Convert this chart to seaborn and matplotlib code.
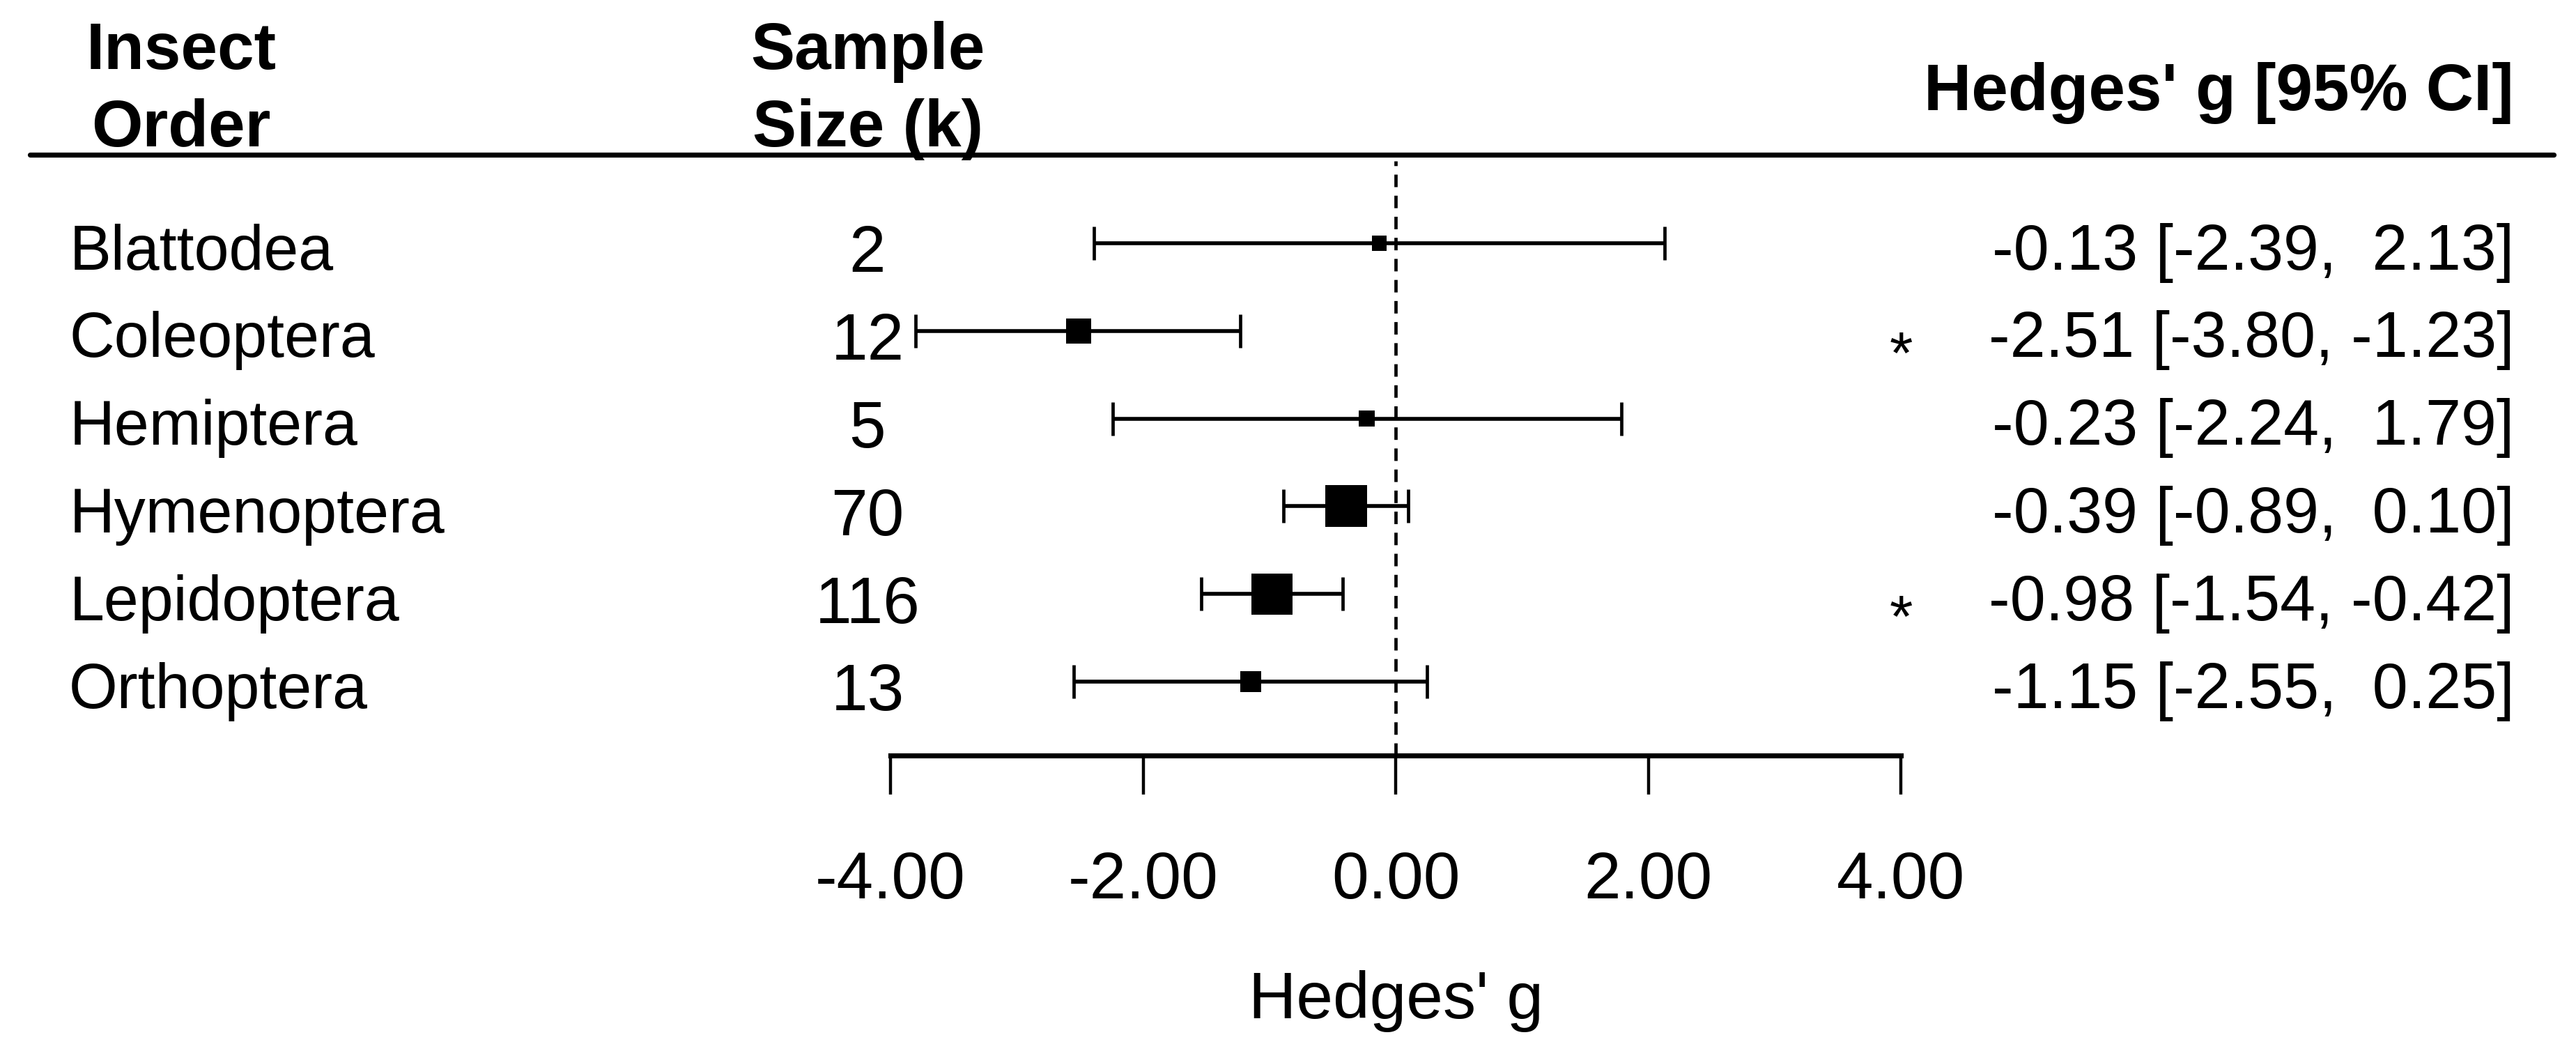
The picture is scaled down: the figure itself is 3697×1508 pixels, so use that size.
import numpy as np
import pandas as pd
import seaborn as sns
import matplotlib.pyplot as plt
from matplotlib.lines import Line2D
from matplotlib.ticker import FormatStrFormatter

sns.set_theme(style="white")
plt.rcParams['font.family'] = ['Liberation Sans', 'DejaVu Sans']
plt.rcParams['axes.unicode_minus'] = False
plt.rcParams['text.color'] = 'black'

orders = ['Blattodea', 'Coleoptera', 'Hemiptera', 'Hymenoptera', 'Lepidoptera', 'Orthoptera']
k = [2, 12, 5, 70, 116, 13]
g = [-0.13, -2.51, -0.23, -0.39, -0.98, -1.15]
ci_low = [-2.39, -3.80, -2.24, -0.89, -1.54, -2.55]
ci_high = [2.13, -1.23, 1.79, 0.10, -0.42, 0.25]
significant = [False, True, False, False, True, False]

# square side (pt) for each study group
box_pt = [7.9, 13.0, 8.3, 21.6, 21.2, 10.8]

df = pd.DataFrame({'order': orders, 'k': k, 'g': g, 'lo': ci_low, 'hi': ci_high,
                   'sig': significant})
df['row'] = np.arange(len(df))

fig = plt.figure(figsize=(18.485, 7.54), dpi=200)
ax = fig.add_axes([0.3457, 0.2812, 0.3922, 0.5716])

# confidence intervals
ax.errorbar(df['g'], df['row'], xerr=[df['g'] - df['lo'], df['hi'] - df['g']],
            fmt='none', ecolor='black', elinewidth=2.0, capsize=8.5, capthick=1.7)
# weighted squares
sns.scatterplot(data=df, x='g', y='row', size='order',
                sizes={o: s ** 2 for o, s in zip(orders, box_pt)},
                marker='s', color='black', linewidth=0, legend=False, ax=ax, zorder=3)

ax.axvline(0, ymin=0, ymax=0.99, color='black', lw=1.7, ls=(0, (3.8, 2.6)))

ax.set_xlim(-4, 4)
ax.set_ylim(5.843, -1.0095)
ax.set_xticks([-4, -2, 0, 2, 4])
ax.xaxis.set_major_formatter(FormatStrFormatter('%.2f'))
ax.set_yticks([])
for s in ['top', 'left', 'right']:
    ax.spines[s].set_visible(False)
ax.spines['bottom'].set_linewidth(2.6)
ax.spines['bottom'].set_color('black')
ax.tick_params(axis='x', direction='out', length=20, width=1.6, color='black',
               pad=29, labelsize=34, labelcolor='black', bottom=True)
ax.set_xlabel("Hedges' g", fontsize=34, labelpad=30, color='black')
ax.set_ylabel('')
ax.patch.set_alpha(0)

ytr = ax.get_yaxis_transform()
for _, r in df.iterrows():
    y = r['row']
    ax.text(-0.813, y + 0.30, r['order'], transform=ytr, ha='left', va='baseline', fontsize=32.3)
    ax.text(-0.0228, y + 0.33, str(r['k']), transform=ytr, ha='center', va='baseline', fontsize=34)
    ax.text(1.607, y + 0.30, f"{r['g']:.2f} [{r['lo']:.2f}, {r['hi']:5.2f}]",
            transform=ytr, ha='right', va='baseline', fontsize=33)
    if r['sig']:
        ax.text(4.0, y + 0.49, '*', ha='center', va='baseline', fontsize=31)

# header
hdr = dict(fontsize=34, fontweight='bold', va='baseline')
fig.text(0.0703, 0.9344, 'Insect', ha='center', **hdr)
fig.text(0.0703, 0.8607, 'Order', ha='center', **hdr)
fig.text(0.3368, 0.9344, 'Sample', ha='center', **hdr)
fig.text(0.3368, 0.8607, 'Size (k)', ha='center', **hdr)
fig.text(0.9759, 0.8952, "Hedges' g [95% CI]", ha='right', **hdr)
fig.add_artist(Line2D([0.0116, 0.9913], [0.8528, 0.8528], color='black', lw=2.6))

fig.savefig('out.png', dpi=200, facecolor='white')
